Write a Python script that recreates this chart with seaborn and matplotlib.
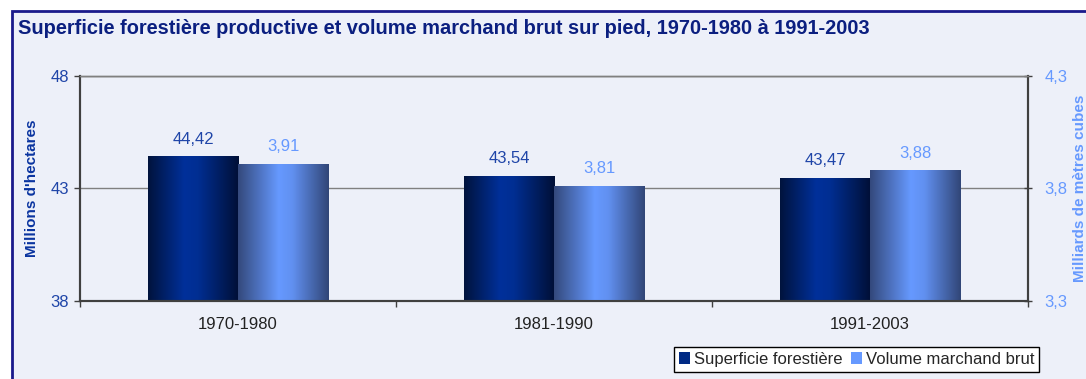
import numpy as np
import pandas as pd
import matplotlib
matplotlib.use("Agg")
import matplotlib.pyplot as plt
import seaborn as sns
from matplotlib.colors import LinearSegmentedColormap
from matplotlib.patches import Patch, Rectangle

# --- data ---------------------------------------------------------------
periods = ["1970-1980", "1981-1990", "1991-2003"]
superficie = [44.42, 43.54, 43.47]      # millions d'hectares
volume = [3.91, 3.81, 3.88]             # milliards de m3
series = ["Superficie forestière", "Volume marchand brut"]
left_ticks = [38, 43, 48]
right_ticks = [3.3, 3.8, 4.3]

df = pd.DataFrame({
    "Période": periods * 2,
    "Série": [series[0]] * 3 + [series[1]] * 3,
    "Valeur": superficie + volume,
})

# --- style --------------------------------------------------------------
BG = "#EDF0F9"
NAVY = "#1A1A8C"
TITLE_C = "#0B1F80"
DARK_LBL = "#1F45A8"
LIGHT_LBL = "#6699FF"
AXIS_C = "#404040"
GRID_C = "#808080"
PALETTE = ["#002A85", "#6699FF"]

sns.set_theme(style="white")
plt.rcParams["font.family"] = ["Liberation Sans", "DejaVu Sans"]

W, H = 1086, 379
fig = plt.figure(figsize=(W / 100, H / 100), dpi=100, facecolor="white")

# chart frame (runs off the right and bottom edges)
fig.patches.append(Rectangle((12 / W, -0.2), 1.2, 1 - 11 / H + 0.2,
                             transform=fig.transFigure, facecolor=BG,
                             edgecolor=NAVY, linewidth=2, zorder=-10))

fig.text(18 / W, 1 - 29 / H,
         "Superficie forestière productive et volume marchand brut sur pied, 1970-1980 à 1991-2003",
         ha="left", va="center", fontsize=14.4, fontweight="bold", color=TITLE_C)

ax = fig.add_axes([80 / W, 1 - 300.7 / H, 948 / W, 224.7 / H])
ax.patch.set_alpha(0)
ax2 = ax.twinx()

BAR_W = 0.57
# both series are dodged on each axis; each axis keeps only its own series
for axis in (ax, ax2):
    sns.barplot(data=df, x="Période", y="Valeur", hue="Série",
                hue_order=series, order=periods, width=BAR_W,
                palette=PALETTE, errorbar=None, legend=False, ax=axis)
sup_bars, _drop1 = ax.containers[0], ax.containers[1]
_drop2, vol_bars = ax2.containers[0], ax2.containers[1]
_drop1.remove()
_drop2.remove()

cm_dark = LinearSegmentedColormap.from_list(
    "dark", [(0, "#00133D"), (0.4, "#00309A"), (0.55, "#002E92"), (0.85, "#001A55"), (1, "#000F36")])
cm_light = LinearSegmentedColormap.from_list(
    "light", [(0, "#34497C"), (0.45, "#6699FF"), (0.6, "#6190F0"), (1, "#314677")])
grad = np.linspace(0, 1, 256)[np.newaxis, :]


def shade(axis, container, cmap, bottom, color):
    for p in container.patches:
        h = p.get_height()
        if not np.isfinite(h) or h == 0:
            continue
        x0, w = p.get_x(), p.get_width()
        p.set_facecolor("none")
        p.set_edgecolor("none")
        im = axis.imshow(grad, extent=[x0, x0 + w, bottom, h], aspect="auto",
                         cmap=cmap, zorder=2, interpolation="bilinear")
        im.set_clip_path(p)
        axis.annotate(f"{h:.2f}".replace(".", ","), (x0 + w / 2, h), xytext=(0, 7),
                      textcoords="offset points", ha="center", va="bottom",
                      fontsize=12, color=color)


shade(ax, sup_bars, cm_dark, left_ticks[0], DARK_LBL)
shade(ax2, vol_bars, cm_light, right_ticks[0], LIGHT_LBL)

for a in (ax, ax2):
    a.set_xlim(-0.5, 2.5)
ax.set_ylim(left_ticks[0], left_ticks[-1])
ax2.set_ylim(right_ticks[0], right_ticks[-1])

ax.set_yticks(left_ticks)
ax.set_yticklabels([str(t) for t in left_ticks], color=DARK_LBL, fontsize=12)
ax2.set_yticks(right_ticks)
ax2.set_yticklabels([f"{t:.1f}".replace(".", ",") for t in right_ticks],
                    color=LIGHT_LBL, fontsize=12)

ax.set_axisbelow(True)
ax.yaxis.grid(True, color=GRID_C, linewidth=1)
ax.xaxis.grid(False)

ax.set_xlabel("")
ax2.set_xlabel("")
ax.tick_params(axis="x", which="major", length=0, pad=12, labelsize=12, labelcolor="#222222")
ax.set_xticks([-0.5, 0.5, 1.5, 2.5], minor=True)
ax.tick_params(axis="x", which="minor", length=4, width=1, color=AXIS_C, direction="out", bottom=True)
ax.tick_params(axis="y", length=4, width=1, color=AXIS_C, direction="out", pad=4, left=True)
ax2.tick_params(axis="y", length=6, width=1, color=AXIS_C, direction="inout", pad=9, right=True)

for a in (ax, ax2):
    for s in a.spines.values():
        s.set_visible(True)
        s.set_color(AXIS_C)
        s.set_linewidth(1.5)
    a.spines["top"].set_color(GRID_C)
    a.spines["top"].set_linewidth(1)

ax.set_ylabel("Millions d'hectares", fontsize=11, fontweight="bold", color="#0A34A0")
ax.yaxis.set_label_coords(-0.0432, 0.5)
ax2.set_ylabel("Milliards de mètres cubes", fontsize=11, fontweight="bold", color=LIGHT_LBL)
ax2.yaxis.set_label_coords(1.0475, 0.5)

handles = [Patch(facecolor=PALETTE[0], edgecolor="none", label=series[0]),
           Patch(facecolor=PALETTE[1], edgecolor="none", label=series[1])]
leg = fig.legend(handles=handles, loc="lower right", ncol=2,
                 bbox_to_anchor=(1039 / W, 1 - 372 / H), fontsize=12,
                 frameon=True, fancybox=False, borderpad=0.3,
                 handlelength=0.7, handleheight=0.7, handletextpad=0.2,
                 columnspacing=0.5, borderaxespad=0)
leg.get_frame().set_edgecolor("black")
leg.get_frame().set_linewidth(1)
leg.get_frame().set_facecolor("white")
leg.get_frame().set_alpha(1)

fig.savefig("out.png", dpi=100, facecolor="white")
